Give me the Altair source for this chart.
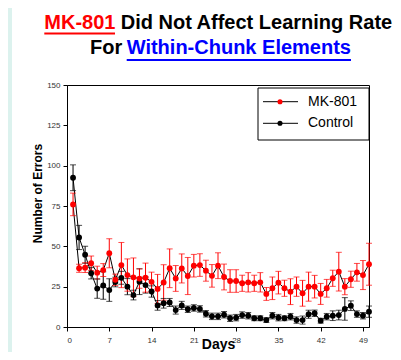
import altair as alt
import pandas as pd

days = list(range(1, 51))

mk801_mean = [76, 36.4, 36.8, 39.5, 33.7, 35.3, 45.7, 29.3, 38.4, 32.2,
              30.8, 30.0, 30.6, 28.0, 23.6, 27.6, 36.4, 30.1, 36.3, 31.6,
              38.0, 38.4, 34.9, 31.7, 38.0, 31.0, 28.5, 28.5, 27.1, 27.7,
              27.1, 27.7, 20.5, 24.0, 27.5, 24.0, 21.9, 25.0, 20.9, 25.0,
              25.0, 20.5, 24.0, 30.2, 34.3, 25.0, 29.6, 33.9, 32.2, 38.9]
mk801_sem = [7, 2.5, 3, 4.5, 4, 4, 9, 3.5, 14, 10,
             12, 6, 9, 6, 9, 11, 12, 8, 9, 11.5,
             7, 7, 6.5, 7, 8, 8, 7, 7, 5, 6,
             5, 6, 4, 7, 7, 5, 8, 6, 8, 9,
             7, 6.5, 5.5, 5, 12, 5, 5, 5.5, 9, 13]

control_mean = [92.5, 55.5, 44.8, 33.3, 23.8, 25.7, 22.9, 27.9, 30.5, 25.0,
                19.8, 28.1, 26.0, 22.0, 13.4, 14.7, 15.2, 10.5, 13.4, 11.0,
                11.8, 11.2, 8.2, 6.6, 6.6, 7.6, 5.4, 5.8, 7.4, 7.0,
                5.4, 5.4, 4.3, 7.0, 5.8, 5.4, 6.4, 4.3, 4.3, 7.9,
                8.5, 3.9, 6.4, 7.0, 7.4, 11.2, 13.2, 8.0, 7.0, 9.5]
control_sem = [8, 7.5, 5.3, 3.5, 6, 8.5, 7, 3, 4, 5,
               3, 8, 5, 3.5, 3, 3, 2.5, 2.5, 2.5, 2,
               2, 2, 2, 2, 2, 2, 2, 2, 2, 2,
               1.5, 1.5, 1.5, 2, 2, 1.5, 2, 2, 2.5, 2.5,
               2, 1.5, 2, 3, 3, 7, 3, 2, 2, 3.5]

groups = ["MK-801", "Control"]
colors = ["#ff0000", "#000000"]
x_ticks = [0, 7, 14, 21, 28, 35, 42, 49]
y_ticks = [0, 25, 50, 75, 100, 125, 150]

rows = []
for g, means, sems in [("Control", control_mean, control_sem), ("MK-801", mk801_mean, mk801_sem)]:
    for d, m, s in zip(days, means, sems):
        rows.append({"group": g, "day": d, "mean": m, "lo": m - s, "hi": m + s})
df = pd.DataFrame(rows)

FONT = "Liberation Sans"
color_scale = alt.Scale(domain=groups, range=colors)

x_enc = alt.X("day:Q", scale=alt.Scale(domain=[0, 50], nice=False),
              axis=alt.Axis(values=x_ticks, title="Days", grid=False, titleY=21,
                            titleBaseline="alphabetic"))
y_enc = alt.Y("mean:Q", scale=alt.Scale(domain=[0, 150], nice=False),
              axis=alt.Axis(values=y_ticks, title="Number of Errors", grid=False,
                            titleAngle=270, titleX=-26, titleY=108,
                            titleBaseline="alphabetic", titleAlign="center"))

base = alt.Chart(df)

lines = base.mark_line(color="black", strokeWidth=1).encode(
    x=x_enc, y=y_enc, detail="group:N", order="day:Q")
bars = base.mark_rule(strokeWidth=1).encode(
    x="day:Q", y="lo:Q", y2="hi:Q",
    color=alt.Color("group:N", scale=color_scale, legend=None))
caps_lo = base.mark_tick(orient="horizontal", size=6, thickness=1).encode(
    x="day:Q", y="lo:Q", color=alt.Color("group:N", scale=color_scale, legend=None))
caps_hi = base.mark_tick(orient="horizontal", size=6, thickness=1).encode(
    x="day:Q", y="hi:Q", color=alt.Color("group:N", scale=color_scale, legend=None))
points = base.mark_circle(size=34, opacity=1).encode(
    x="day:Q", y="mean:Q", color=alt.Color("group:N", scale=color_scale, legend=None))

one = alt.Chart(pd.DataFrame({"a": [0]}))

# slide background strip at left
strip = one.mark_rect(color="#dcf2ee").encode(
    x=alt.value(-59), x2=alt.value(-55), y=alt.value(-77), y2=alt.value(267))

# title pieces
def txt(s, x, y, color, size=20, bold=True, baseline="alphabetic"):
    return one.mark_text(text=s, align="left", baseline=baseline, font=FONT,
                         fontSize=size, fontWeight="bold" if bold else "normal",
                         color=color).encode(x=alt.value(x), y=alt.value(y))

t1 = txt("MK-801", -22.7, -56, "#ff0000")
t2 = txt("Did Not Affect Learning Rate", 53.7, -56, "#000000")
t3 = txt("For", 23, -30.7, "#000000")
t4 = txt("Within-Chunk Elements", 59.7, -30.7, "#0000ff")
u1 = one.mark_rule(color="#ff0000", strokeWidth=2).encode(
    x=alt.value(-22.7), x2=alt.value(48), y=alt.value(-51.5))
u2 = one.mark_rule(color="#0000ff", strokeWidth=2).encode(
    x=alt.value(59.7), x2=alt.value(284), y=alt.value(-25))

# legend
lg_box = one.mark_rect(fill="white", stroke="black", strokeWidth=1).encode(
    x=alt.value(191), x2=alt.value(302), y=alt.value(3), y2=alt.value(55))
legend_layers = [lg_box]
for g, c, yy in [("MK-801", "#ff0000", 16.7), ("Control", "#000000", 38.3)]:
    legend_layers.append(one.mark_rule(color="black", strokeWidth=1).encode(
        x=alt.value(196), x2=alt.value(231), y=alt.value(yy)))
    legend_layers.append(one.mark_circle(color=c, size=26, opacity=1).encode(
        x=alt.value(213), y=alt.value(yy)))
    legend_layers.append(txt(g, 241, yy, "#000000", size=14, bold=False, baseline="middle"))

chart = alt.layer(
    strip, lines, bars, caps_lo, caps_hi, points,
    t1, t2, t3, t4, u1, u2, *legend_layers
).properties(
    width=302, height=242,
    autosize=alt.AutoSizeParams(type="none"),
    padding={"left": 59, "top": 77, "right": 24, "bottom": 25},
    background="white",
).configure_view(
    stroke="black", strokeWidth=1
).configure_axis(
    domainColor="black", tickColor="black", tickSize=4,
    labelFont=FONT, labelFontSize=8, labelColor="#333333",
    titleFont=FONT, titleFontWeight="bold", titleColor="black",
    labelPadding=3,
).configure_axisY(titleFontSize=12).configure_axisX(titleFontSize=14, labelPadding=5)

chart.save("out.html", embed_options={"renderer": "svg", "actions": False})
